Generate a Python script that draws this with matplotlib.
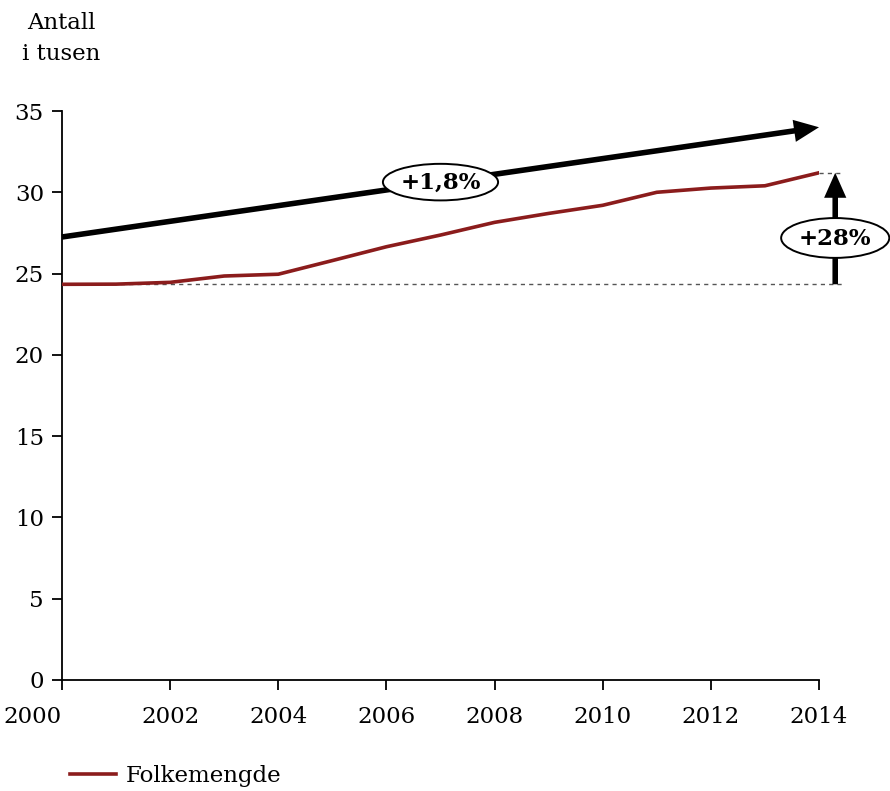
import numpy as np
from matplotlib import pyplot as plt
from matplotlib.patches import Ellipse

# data (thousands)
years = [2000, 2001, 2002, 2003, 2004, 2005, 2006, 2007, 2008, 2009, 2010, 2011, 2012, 2013, 2014]
folkemengde = [24.34, 24.35, 24.46, 24.85, 24.96, 25.8, 26.65, 27.37, 28.15, 28.7, 29.2, 30.0, 30.26, 30.4, 31.2]
x_ticks = [2000, 2002, 2004, 2006, 2008, 2010, 2012, 2014]
y_ticks = [0, 5, 10, 15, 20, 25, 30, 35]

# trend arrow and labels
trend_start = 27.25
trend_end = 34.0
trend_label = '+1,8%'
growth_label = '+28%'
arrow_x = 2014.3

plt.rcParams['font.family'] = ['DejaVu Serif']

fig = plt.figure(figsize=(8.9, 7.91), dpi=100)
ax = fig.add_axes([62 / 890, 1 - 680 / 791, (819 - 62) / 890, (680 - 111) / 791])

red = '#8b1c1c'
line, = ax.plot(years, folkemengde, color=red, lw=2.6, label='Folkemengde', zorder=3)

ax.set_xlim(2000, 2014)
ax.set_ylim(0, 35)
ax.set_xticks(x_ticks)
ax.set_yticks(y_ticks)
ax.tick_params(axis='both', direction='out', length=7, width=1.3, labelsize=16.5, colors='black')
ax.tick_params(axis='x', pad=12)
ax.tick_params(axis='y', pad=6)
ax.spines['top'].set_visible(False)
ax.spines['right'].set_visible(False)
ax.spines['left'].set_linewidth(1.3)
ax.spines['bottom'].set_linewidth(1.3)
xlabels = ax.get_xticklabels()
xlabels[0].set_ha('right')

# dashed reference lines
ax.plot([years[0], arrow_x + 0.15], [folkemengde[0], folkemengde[0]], color='#555555',
        lw=1, dashes=(3, 3), clip_on=False, zorder=2)
ax.plot([years[-1], arrow_x + 0.15], [folkemengde[-1], folkemengde[-1]], color='#555555',
        lw=1, dashes=(3, 3), clip_on=False, zorder=2)

head = 'simple,head_length=0.9,head_width=0.8,tail_width=0.2'
arrow_props = dict(arrowstyle=head, lw=0, fc='black', ec='black',
                   shrinkA=0, shrinkB=0, mutation_scale=20)

# trend arrow
ax.annotate('', xy=(years[-1], trend_end), xytext=(years[0], trend_start),
            arrowprops=arrow_props, annotation_clip=False, zorder=4)
mid_x = 2007
mid_y = trend_start + (trend_end - trend_start) * (mid_x - years[0]) / (years[-1] - years[0])
ax.add_patch(Ellipse((mid_x, mid_y), 2.13, 2.25, fc='white', ec='black', lw=1.4,
                     zorder=5, clip_on=False))
ax.text(mid_x, mid_y - 0.05, trend_label, ha='center', va='center', fontsize=16.5,
        fontweight='bold', zorder=6)

# growth arrow
ax.annotate('', xy=(arrow_x, folkemengde[-1]), xytext=(arrow_x, folkemengde[0]),
            arrowprops=arrow_props, annotation_clip=False, zorder=4)
ax.add_patch(Ellipse((arrow_x, 27.19), 2.0, 2.45, fc='white', ec='black', lw=1.4,
                     zorder=5, clip_on=False))
ax.text(arrow_x, 27.14, growth_label, ha='center', va='center', fontsize=16.5,
        fontweight='bold', zorder=6, clip_on=False)

fig.text(61 / 890, 1 - 12 / 791, 'Antall\ni tusen', ha='center', va='top', fontsize=16.5,
         linespacing=1.55)

fig.legend(handles=[line], loc='center left', bbox_to_anchor=(70 / 890, 1 - 776 / 791),
           frameon=False, fontsize=16.5, handlelength=2.0, handletextpad=0.45,
           borderpad=0, borderaxespad=0)

fig.savefig('out.png', dpi=100)
